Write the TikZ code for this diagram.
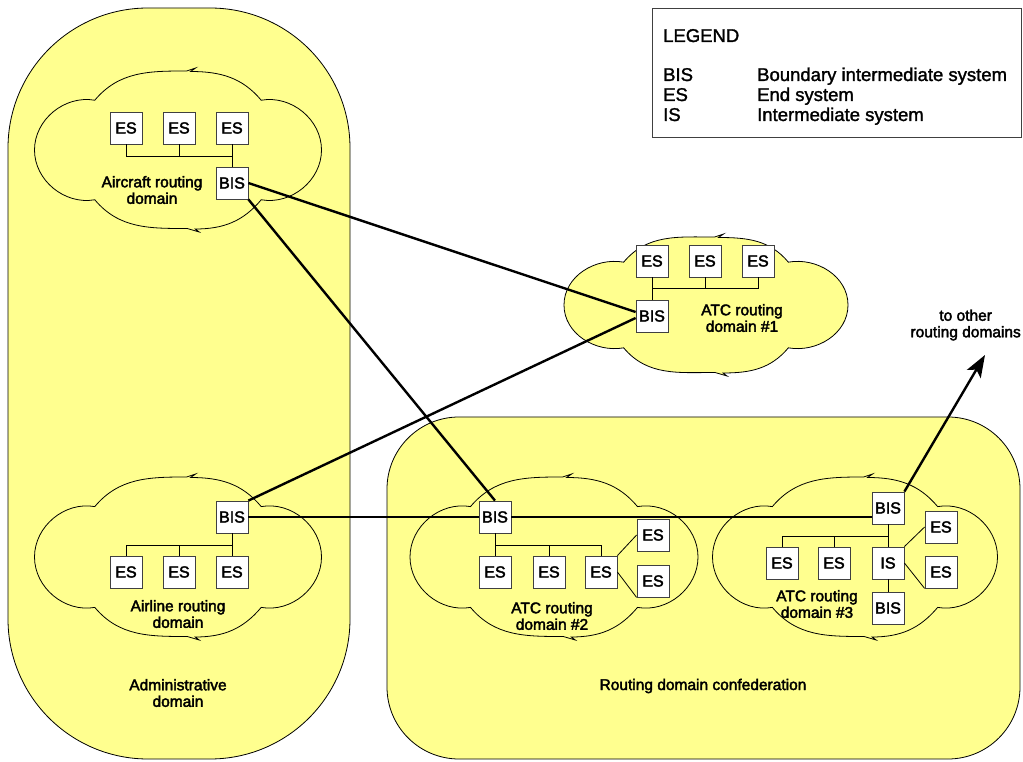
\documentclass[tikz,border=0pt]{standalone}
\usepackage{fontspec}
\setmainfont{Liberation Sans}[FakeBold=1.5]
\newfontfamily\heavyfont{Liberation Sans}[FakeBold=2.5]
\newfontfamily\legendfont{Liberation Sans}[FakeBold=1.5]
\usetikzlibrary{arrows.meta}
\definecolor{ylw}{RGB}{255,255,143}
\definecolor{boxline}{RGB}{64,64,64}
\newcommand{\cloudshape}[4]{%
 \filldraw[cloudstyle] ({#1-0.58*#3},{#2+0.63*#4})
   to[out=50,in=180] ({#1+0.06*#3},{#2+#4})
   -- ({#1+0.06*#3+9},{#2+#4+3}) -- ({#1+0.06*#3+4},{#2+#4-0.5})
   to[out=0,in=130] ({#1+0.58*#3},{#2+0.63*#4})
   to[out=10,in=90] ({#1+#3},{#2})
   to[out=-90,in=-10] ({#1+0.58*#3},{#2-0.63*#4})
   to[out=-130,in=0] ({#1+0.12*#3},{#2-#4})
   -- ({#1+0.12*#3+4},{#2-#4-3}) -- ({#1+0.12*#3-8},{#2-#4+0.5})
   to[out=180,in=-50] ({#1-0.58*#3},{#2-0.63*#4})
   to[out=190,in=-90] ({#1-#3},{#2})
   to[out=90,in=170] cycle;}
\tikzset{
  domainstyle/.style={draw=black, fill=ylw, line width=0.8pt},
  cloudstyle/.style={draw=black, fill=ylw, line width=0.8pt},
  sysbox/.style={draw=boxline, fill=white, line width=0.8pt, minimum width=32pt,
    minimum height=32pt, inner sep=0pt, font=\heavyfont\fontsize{16}{16}\selectfont},
  lbl/.style={align=center, inner sep=0pt, font=\heavyfont\fontsize{15.5}{16.5}\selectfont},
  legtxt/.style={inner sep=0pt, anchor=base west, font=\legendfont\fontsize{18.5}{20}\selectfont},
  bus/.style={draw=black, line width=0.8pt},
  link/.style={draw=black, line width=2.4pt},
  mainlink/.style={draw=black, line width=2.8pt},
}
\begin{document}
\begin{tikzpicture}[x=1pt,y=1pt]
\useasboundingbox (0,0) rectangle (1023,761);
% domains
\draw[domainstyle, rounded corners=140pt] (8,2) rectangle (350,753);
\draw[domainstyle, rounded corners=72pt] (387,2) rectangle (1020,344);
% legend
\draw[draw=boxline, line width=0.8pt, fill=white] (652,624) rectangle (1021,753);
\node[legtxt] (lgh) at (663,719) {LEGEND};
\node[legtxt] (lg1) at (663,680) {BIS};
\node[legtxt] (lg2) at (663,660) {ES};
\node[legtxt] (lg3) at (663,640) {IS};
\node[legtxt] (lgd1) at (757,680) {Boundary intermediate system};
\node[legtxt] (lgd2) at (757,660) {End system};
\node[legtxt] (lgd3) at (757,640) {Intermediate system};
% clouds
\cloudshape{178}{611}{143.5}{79}
\cloudshape{706}{456}{142}{68}
\cloudshape{178}{204}{143.5}{80}
\cloudshape{554}{204}{144}{80}
\cloudshape{855}{204}{142.5}{80}
% area labels
\node[lbl] (admlbl) at (178,68) {Administrative\\domain};
\node[lbl] (conflbl) at (703,75) {Routing domain confederation};
\node[lbl, anchor=east] (otherlbl) at (1021,436) {\hfill to other\\routing domains};
% Aircraft routing domain
\node[sysbox] (a1) at (126,633) {ES};
\node[sysbox] (a2) at (179,633) {ES};
\node[sysbox] (a3) at (232,633) {ES};
\node[sysbox] (ab) at (232,578) {BIS};
\node[lbl] (albl) at (152,571) {Aircraft routing\\domain};
\coordinate (busA) at (0,605);
\draw[bus] (a1.south) -- (a1.south |- busA) -- (a3.south |- busA);
\draw[bus] (a2.south) -- (a2.south |- busA);
\draw[bus] (a3.south) -- (ab.north);
% ATC routing domain #1
\node[sysbox] (b1) at (652,500) {ES};
\node[sysbox] (b2) at (705,500) {ES};
\node[sysbox] (b3) at (758,500) {ES};
\node[sysbox] (bb) at (652,445) {BIS};
\node[lbl] (blbl) at (742,443) {ATC routing\\domain \#1};
\coordinate (busB) at (0,473);
\draw[bus] (b3.south) -- (b3.south |- busB) -- (b1.south |- busB);
\draw[bus] (b2.south) -- (b2.south |- busB);
\draw[bus] (b1.south) -- (bb.north);
% Airline routing domain
\node[sysbox] (lb) at (232,244) {BIS};
\node[sysbox] (l1) at (126,189) {ES};
\node[sysbox] (l2) at (179,189) {ES};
\node[sysbox] (l3) at (232,189) {ES};
\node[lbl] (llbl) at (178,147) {Airline routing\\domain};
\coordinate (busL) at (0,216);
\draw[bus] (l1.north) -- (l1.north |- busL) -- (l3.north |- busL);
\draw[bus] (l2.north) -- (l2.north |- busL);
\draw[bus] (lb.south) -- (l3.north);
% ATC routing domain #2
\node[sysbox] (cb) at (495,244) {BIS};
\node[sysbox] (c1) at (495,189) {ES};
\node[sysbox] (c2) at (549,189) {ES};
\node[sysbox] (c3) at (601,189) {ES};
\node[sysbox] (c4) at (653,226) {ES};
\node[sysbox] (c5) at (653,180) {ES};
\node[lbl] (clbl) at (552,145) {ATC routing\\domain \#2};
\coordinate (busC) at (0,216);
\draw[bus] (cb.south) -- (c1.north);
\draw[bus] (c1.north |- busC) -- (c3.north |- busC) -- (c3.north);
\draw[bus] (c2.north) -- (c2.north |- busC);
\draw[bus] (c3.north east) -- (c4.west);
\draw[bus] (c3.east) -- (c5.south west);
% ATC routing domain #3
\node[sysbox] (db) at (888,253) {BIS};
\node[sysbox] (d1) at (782,198) {ES};
\node[sysbox] (d2) at (834,198) {ES};
\node[sysbox] (dis) at (888,198) {IS};
\node[sysbox] (db2) at (888,153) {BIS};
\node[sysbox] (d4) at (941,234) {ES};
\node[sysbox] (d5) at (941,189) {ES};
\node[lbl] (dlbl) at (817,157) {ATC routing\\domain \#3};
\coordinate (busD) at (0,225);
\draw[bus] (db.south) -- (dis.north);
\draw[bus] (d1.north) -- (d1.north |- busD) -- (dis.north |- busD);
\draw[bus] (d2.north) -- (d2.north |- busD);
\draw[bus] (dis.south) -- (db2.north);
\draw[bus] (dis.north east) -- (d4.west);
\draw[bus] (dis.east) -- (d5.south west);
% inter-domain links
\draw[link] (ab.east) -- ([yshift=4pt]bb.west);
\draw[link] (ab.south east) -- (cb.north);
\draw[link] (lb.north east) -- ([yshift=-2pt]bb.west);
\draw[mainlink] (lb.east) -- (cb.west);
\draw[mainlink] (cb.east) -- (cb.east -| db.west);
\coordinate (tip) at (985,406);
\draw[link, -{Stealth[length=22pt, width=16pt, inset=5pt]}] (db.north east) -- (tip);
\end{tikzpicture}
\end{document}
